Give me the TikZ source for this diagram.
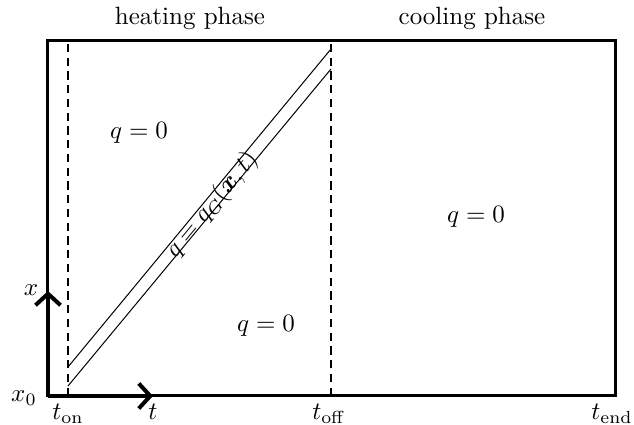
\documentclass[tikz,border=0pt]{standalone}
\usepackage{amsmath}
\usetikzlibrary{arrows.meta}
\begin{document}
\begin{tikzpicture}[x=0.4pt,y=-0.4pt,
  frame/.style={line width=1.2pt},
  axis/.style={line width=1.6pt,-{Straight Barb[length=4.6pt,width=10pt]}},
  phase/.style={line width=0.9pt,dash pattern=on 3.3pt off 2.2pt},
  band/.style={line width=0.4pt},
  lbl/.style={inner sep=0pt}]
\useasboundingbox (0,0) rectangle (634,425);
% corners
\coordinate (bl) at (47,396);
\coordinate (tr) at (615,41);
\draw[frame] (bl) rectangle (tr);
% dashed phase lines
\coordinate (onB) at (68,396); \coordinate (onT) at (68,41);
\coordinate (offB) at (331,396); \coordinate (offT) at (331,41);
\draw[phase] (onB) -- (onT);
\draw[phase] (offB) -- (offT);
% band
\coordinate (u1) at (68,367); \coordinate (u2) at (331,49);
\coordinate (l1) at (68,386); \coordinate (l2) at (331,69);
\draw[band] (u1) -- (u2);
\draw[band] (l1) -- (l2);
% axes
\coordinate (o) at (48,396);
\coordinate (xe) at (48,291);
\coordinate (te) at (153,396);
\draw[axis] (o) -- (xe);
\draw[axis] (o) -- (te);
% labels
\node[lbl] (hp) at (190,18) {heating phase};
\node[lbl] (cp) at (472,18) {cooling phase};
\node[lbl] (q1) at (139,133) {$q=0$};
\node[lbl] (q2) at (476,217) {$q=0$};
\node[lbl] (q3) at (266,326) {$q=0$};
\node[lbl,rotate=50.4] (qg) at (212,205) {$q=q_G(\boldsymbol{x},t)$};
\node[lbl] (xl) at (31,290) {$x$};
\node[lbl] (x0) at (24,398) {$x_0$};
\node[lbl,anchor=north] (ton) at (68,404) {$t_{\mathrm{on}}$};
\node[lbl,anchor=north] (tl) at (153,404) {$t$};
\node[lbl,anchor=north] (toff) at (329,404) {$t_{\mathrm{off}}$};
\node[lbl,anchor=north] (tend) at (612,404) {$t_{\mathrm{end}}$};
\end{tikzpicture}
\end{document}
